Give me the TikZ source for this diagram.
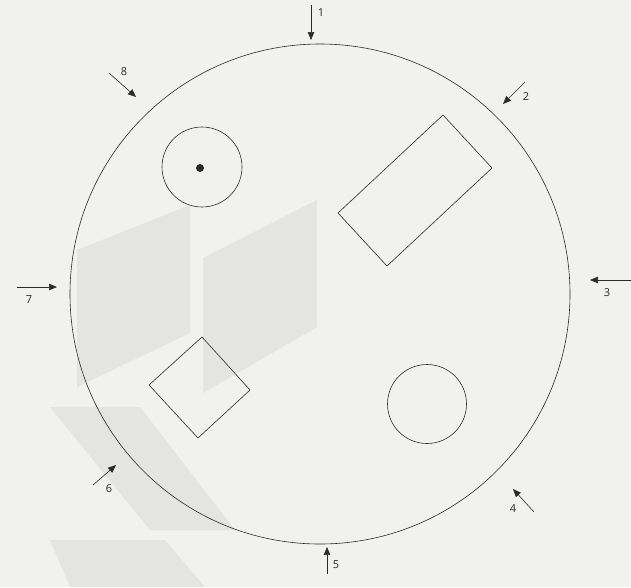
\documentclass[tikz,border=0pt]{standalone}
\usepackage{fontspec}
\setsansfont{Open Sans}
\usetikzlibrary{arrows.meta,positioning,calc}
\definecolor{paper}{HTML}{F1F1F0}
\definecolor{ghost}{HTML}{E4E4E3}
\definecolor{ink}{HTML}{2A2A2A}
\tikzset{
  outline/.style={draw=ink,line width=0.6pt},
  ghostshape/.style={fill=ghost,draw=none},
  pointer/.style={-{Triangle[length=8pt,width=6.5pt]},line width=0.6pt,draw=ink},
  numlabel/.style={font=\sffamily\fontsize{11}{13}\selectfont,text=ink,inner sep=0pt}
}
\begin{document}
\begin{tikzpicture}[x=1pt,y=-1pt]
    \path[use as bounding box,fill=paper] (0,0) rectangle (631,587);

    % faint shapes of the printed page behind
    \fill[ghostshape] (77,250) -- (190,205) -- (190,333) -- (77,387) -- cycle;
    \fill[ghostshape] (203,258) -- (317,200) -- (317,327) -- (203,393) -- cycle;
    \fill[ghostshape] (50,407) -- (140,407) -- (235,530) -- (150,530) -- cycle;
    \fill[ghostshape] (50,540) -- (165,540) -- (205,587) -- (70,587) -- cycle;

    % the plate and what lies on it
    \node[outline,circle,minimum size=500pt,inner sep=0pt] (plate) at (320,294) {};
    \node[outline,circle,minimum size=80pt,inner sep=0pt] (hole) at (202,167) {};
    \fill[ink] (200,168) circle (4pt);
    \coordinate (dot) at (200,168);
    \draw[outline] (338,213) -- (387,266) -- (492,168) -- (443,115) -- cycle;
    \draw[outline] (202,337) -- (250,390) -- (198,438) -- (149,385) -- cycle;
    \node[outline,circle,minimum size=79pt,inner sep=0pt] (disc) at (427,404) {};

    % viewing directions
    \coordinate (t1) at (311,5);   \coordinate (h1) at (311,40);
    \coordinate (t2) at (525,82);  \coordinate (h2) at (503,104);
    \coordinate (t3) at (631,280); \coordinate (h3) at (590,280);
    \coordinate (t4) at (534,512); \coordinate (h4) at (513,489);
    \coordinate (t5) at (327,574); \coordinate (h5) at (327,547);
    \coordinate (t6) at (93,485);  \coordinate (h6) at (116,465);
    \coordinate (t7) at (17,287);  \coordinate (h7) at (57,287);
    \coordinate (t8) at (109,73);  \coordinate (h8) at (136,97);
    \foreach \k in {1,...,8}
      \draw[pointer] (t\k) -- (h\k);

    \node[numlabel] (n1) at (321,13)  {1};
    \node[numlabel] (n2) at (526,97)  {2};
    \node[numlabel] (n3) at (607,293) {3};
    \node[numlabel] (n4) at (513,509) {4};
    \node[numlabel] (n5) at (336,565) {5};
    \node[numlabel] (n6) at (109,489) {6};
    \node[numlabel] (n7) at (29,300)  {7};
    \node[numlabel] (n8) at (124,72)  {8};
  \end{tikzpicture}
\end{document}
